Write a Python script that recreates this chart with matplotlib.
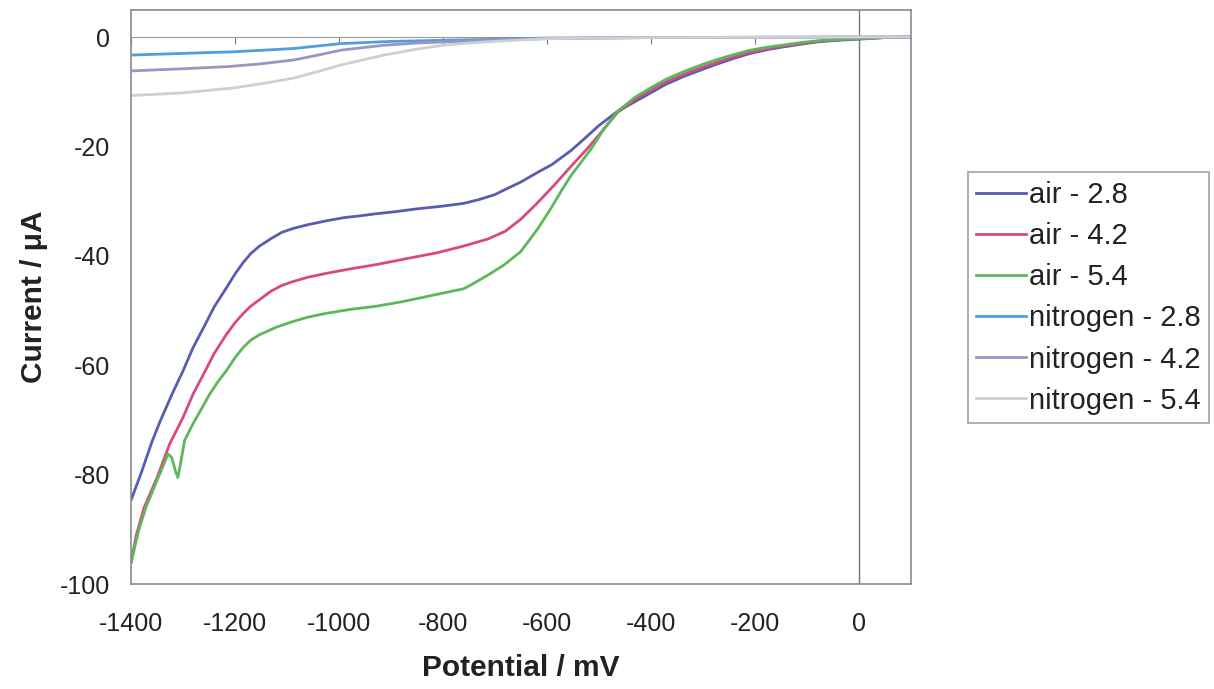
import matplotlib.pyplot as plt
import numpy as np

plt.rcParams["font.family"] = ["Liberation Sans", "DejaVu Sans"]
plt.rcParams["axes.unicode_minus"] = False

# potential (mV) / current (uA)
air_28_x = [-1400, -1380, -1360, -1345, -1320, -1300, -1281, -1260, -1240, -1217, -1200,
            -1185, -1170, -1153, -1130, -1110, -1089, -1060, -1025, -990, -961, -929, -890,
            -850, -800, -760, -730, -700, -683, -650, -617, -590, -570, -554, -529, -500,
            -464, -430, -400, -370, -336, -300, -271, -240, -208, -175, -144, -110, -80,
            -40, 0, 50, 100]
air_28_y = [-84.6, -79.5, -74.0, -70.4, -65.0, -61.0, -56.8, -53.0, -49.3, -45.9, -43.3,
            -41.3, -39.6, -38.2, -36.8, -35.7, -35.0, -34.3, -33.6, -33.0, -32.7, -32.3, -31.9,
            -31.4, -30.9, -30.4, -29.7, -28.8, -28.0, -26.5, -24.7, -23.3, -21.9, -20.8, -18.7, -16.2,
            -13.6, -11.8, -10.2, -8.6, -7.2, -5.9, -4.9, -3.9, -3.0, -2.3, -1.8, -1.3, -0.9,
            -0.6, -0.4, -0.1, 0.0]

air_42_x = [-1400, -1390, -1375, -1350, -1326, -1300, -1281, -1260, -1240, -1217, -1200,
            -1185, -1170, -1153, -1130, -1110, -1089, -1060, -1025, -980, -929, -870, -810,
            -760, -713, -680, -650, -620, -587, -555, -521, -490, -464, -430, -400, -370,
            -336, -300, -271, -240, -208, -175, -144, -110, -80, -40, 0, 50, 100]
air_42_y = [-96.0, -91.0, -86.0, -80.5, -74.4, -69.5, -65.3, -61.5, -57.8, -54.4, -52.2,
            -50.6, -49.2, -48.0, -46.4, -45.4, -44.7, -43.9, -43.2, -42.4, -41.6, -40.5, -39.4,
            -38.2, -36.9, -35.5, -33.3, -30.5, -27.2, -23.8, -20.3, -16.8, -13.8, -11.4, -9.7, -8.2,
            -6.8, -5.5, -4.6, -3.6, -2.8, -2.1, -1.6, -1.2, -0.8, -0.5, -0.3, -0.1, 0.0]

air_54_x = [-1400, -1385, -1371, -1350, -1329, -1322, -1314, -1310, -1305, -1297, -1281,
            -1265, -1249, -1233, -1217, -1200, -1185, -1170, -1153, -1120, -1089, -1060,
            -1025, -980, -929, -880, -850, -800, -760, -746, -715, -683, -650, -617, -590,
            -570, -554, -535, -515, -490, -464, -430, -400, -370, -336, -300, -271, -240,
            -208, -175, -144, -110, -80, -40, 0, 50, 100]
air_54_y = [-96.0, -90.0, -85.8, -81.0, -76.2, -76.8, -79.5, -80.5, -78.0, -73.7, -70.7,
            -68.0, -65.3, -63.0, -61.0, -58.6, -56.8, -55.4, -54.4, -53.0, -52.0, -51.2,
            -50.5, -49.8, -49.2, -48.4, -47.8, -46.8, -46.0, -45.3, -43.6, -41.7, -39.2, -35.0, -31.0,
            -27.8, -25.4, -23.0, -20.5, -16.8, -13.6, -11.0, -9.3, -7.7, -6.3, -5.0, -4.1, -3.2,
            -2.4, -1.85, -1.45, -1.0, -0.7, -0.45, -0.3, -0.1, 0.0]

n2_28_x = [-1400, -1202, -1087, -996, -900, -798, -700, -600, -400, 0, 100]
n2_28_y = [-3.3, -2.7, -2.1, -1.2, -0.8, -0.6, -0.4, -0.2, -0.1, 0.0, 0.0]

n2_42_x = [-1400, -1300, -1213, -1150, -1087, -1040, -996, -950, -913, -850, -798, -700,
           -600, -400, 0, 100]
n2_42_y = [-6.2, -5.8, -5.4, -4.9, -4.2, -3.3, -2.4, -1.9, -1.5, -1.1, -0.9, -0.6,
           -0.3, -0.1, 0.0, 0.0]

n2_54_x = [-1400, -1300, -1202, -1140, -1087, -1040, -996, -950, -913, -850, -798, -750,
           -700, -600, -400, 0, 100]
n2_54_y = [-10.7, -10.2, -9.3, -8.4, -7.5, -6.3, -5.1, -4.1, -3.3, -2.2, -1.5, -1.1,
           -0.8, -0.3, -0.1, 0.0, 0.0]

labels = ["air - 2.8", "air - 4.2", "air - 5.4",
          "nitrogen - 2.8", "nitrogen - 4.2", "nitrogen - 5.4"]
colors = ["#5a5cb0", "#d84a7c", "#5cb85a", "#4f9fe0", "#9a96c4", "#cfcfd2"]

series = [(air_28_x, air_28_y), (air_42_x, air_42_y), (air_54_x, air_54_y),
          (n2_28_x, n2_28_y), (n2_42_x, n2_42_y), (n2_54_x, n2_54_y)]

fig = plt.figure(figsize=(12.14, 6.89), dpi=100)
ax = fig.add_axes([0.108, 0.152, 0.642, 0.834])

for (x, y), lab, c in zip(series, labels, colors):
    ax.plot(x, y, color=c, lw=2.0, label=lab)

ax.set_xlim(-1400, 100)
ax.set_ylim(-100, 5)
ax.set_xticks(np.arange(-1400, 1, 200))
ax.set_yticks(np.arange(-100, 1, 20))
ax.tick_params(length=0, labelsize=18, colors="#222222")
ax.tick_params(axis="x", pad=20)
ax.tick_params(axis="y", pad=15)

for sp in ax.spines.values():
    sp.set_color("#8a8a8a")
    sp.set_linewidth(1.2)

# axes crossing at the origin, tick marks on the y=0 line
ax.axvline(0, color="#777777", lw=1.0, zorder=1)
sec = ax.secondary_xaxis(0, transform=ax.transData)
sec.set_xticks(np.arange(-1400, 1, 200))
sec.tick_params(direction="out", length=5, color="#777777", labelbottom=False)
sec.spines["bottom"].set_color("#999999")

ax.set_xlabel("Potential / mV", fontsize=21.5, fontweight="bold", labelpad=13,
              color="#222222")
ax.set_ylabel("Current / \u03bcA", fontsize=21.5, fontweight="bold", labelpad=9,
              color="#222222")

leg = fig.legend(loc="upper left", bbox_to_anchor=(0.797, 0.75), fontsize=21,
                 frameon=True, fancybox=False, handlelength=1.7, handletextpad=0.1,
                 labelspacing=0.45, borderpad=0.3, borderaxespad=0)
leg.get_frame().set_edgecolor("#8a8a8a")
leg.get_frame().set_linewidth(1.2)
for t in leg.get_texts():
    t.set_color("#222222")

fig.savefig("out.png", dpi=100)
